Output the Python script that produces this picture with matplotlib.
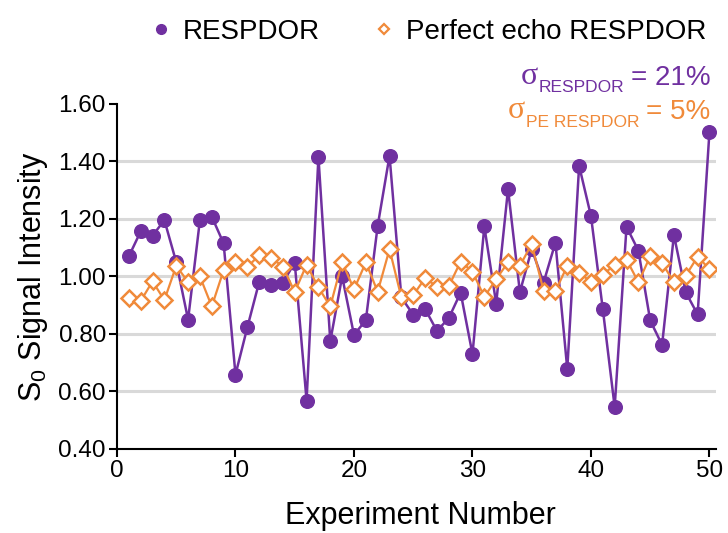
import matplotlib
matplotlib.use("Agg")
import matplotlib.pyplot as plt
from matplotlib.lines import Line2D

plt.rcParams['font.family'] = ['Liberation Sans', 'DejaVu Sans']
plt.rcParams['mathtext.fontset'] = 'custom'
plt.rcParams['mathtext.rm'] = 'Liberation Sans'
plt.rcParams['mathtext.it'] = 'Liberation Sans'
plt.rcParams['mathtext.sf'] = 'Liberation Sans'

experiments = list(range(1, 51))
respdor = [1.070, 1.157, 1.142, 1.196, 1.050, 0.850, 1.197, 1.208, 1.115, 0.659,
           0.823, 0.981, 0.970, 0.979, 1.048, 0.568, 1.416, 0.775, 1.000, 0.797,
           0.848, 1.176, 1.420, 0.927, 0.867, 0.887, 0.811, 0.855, 0.944, 0.730,
           1.174, 0.906, 1.304, 0.946, 1.095, 0.979, 1.118, 0.678, 1.385, 1.210,
           0.886, 0.546, 1.173, 1.090, 0.847, 0.762, 1.144, 0.945, 0.868, 1.504]
pe_respdor = [0.925, 0.915, 0.983, 0.918, 1.037, 0.981, 1.000, 0.896, 1.022, 1.049,
              1.033, 1.074, 1.066, 1.034, 0.946, 1.041, 0.962, 0.896, 1.051, 0.955,
              1.049, 0.947, 1.095, 0.927, 0.935, 0.994, 0.965, 0.966, 1.052, 1.017,
              0.929, 0.991, 1.049, 1.037, 1.113, 0.951, 0.949, 1.037, 1.012, 0.982,
              1.006, 1.041, 1.059, 0.980, 1.070, 1.047, 0.980, 1.003, 1.069, 1.026]
yticks = [0.40, 0.60, 0.80, 1.00, 1.20, 1.40, 1.60]
xticks = [0, 10, 20, 30, 40, 50]
series_names = ["RESPDOR", "Perfect echo RESPDOR"]
sigma_texts = [("RESPDOR", "= 21%"), ("PE RESPDOR", "= 5%")]

purple = '#7030A0'
orange = '#F08A3A'

fig = plt.figure(figsize=(7.28, 5.33), dpi=100)
ax = fig.add_axes([0.1607, 0.1576, 0.8228, 0.6473])

ax.plot(experiments, respdor, color=purple, lw=1.8, marker='o', ms=9.8,
        markeredgecolor=purple, markerfacecolor=purple, zorder=3)
ax.plot(experiments, pe_respdor, color=orange, lw=1.6, marker='D', ms=7.8,
        markeredgecolor=orange, markerfacecolor='white', markeredgewidth=1.8, zorder=4)

ax.set_xlim(0, 50.55)
ax.set_ylim(0.40, 1.60)
ax.set_yticks(yticks)
ax.set_yticklabels([f"{v:.2f}" for v in yticks])
ax.set_xticks(xticks)
for v in yticks[1:-1]:
    ax.axhline(v, color='#d9d9d9', lw=2.2, zorder=1)

for s in ['top', 'right']:
    ax.spines[s].set_visible(False)
for s in ['left', 'bottom']:
    ax.spines[s].set_linewidth(1.5)
    ax.spines[s].set_color('black')
ax.tick_params(axis='both', direction='out', length=6, width=1.5, labelsize=17.5, pad=2, colors='black')

ax.set_xlabel("Experiment Number", fontsize=22)
ax.xaxis.set_label_coords(0.506, -0.152)
ax.set_ylabel(r"S$_{\mathsf{0}}$ Signal Intensity", fontsize=22)
ax.yaxis.set_label_coords(-0.112, 0.5)

handles = [Line2D([], [], ls='none', marker='o', ms=7, color=purple),
           Line2D([], [], ls='none', marker='D', ms=5.5, markerfacecolor='white',
                  markeredgecolor=orange, markeredgewidth=1.6)]
fig.legend(handles, series_names, loc='upper center', bbox_to_anchor=(0.588, 1.012),
           ncol=2, frameon=False, fontsize=20, handlelength=0.8, handletextpad=0.4,
           columnspacing=1.9)

# sigma annotations
ys = [0.840, 0.776]
colors = [purple, orange]
for (sub, val), y, c in zip(sigma_texts, ys, colors):
    t_val = fig.text(0.976, y, val, ha='right', va='baseline', fontsize=20, color=c)
    t_sub = ax.annotate(sub, xy=(0, 0), xycoords=t_val, xytext=(-5, -3),
                        textcoords='offset points', ha='right', va='bottom',
                        fontsize=12.5, color=c)
    ax.annotate("\u03c3", xy=(0, 0), xycoords=t_sub, xytext=(-0.5, 3),
                textcoords='offset points', ha='right', va='bottom',
                fontsize=23, color=c, family=['Liberation Serif'])

fig.savefig("out.png", dpi=100)
